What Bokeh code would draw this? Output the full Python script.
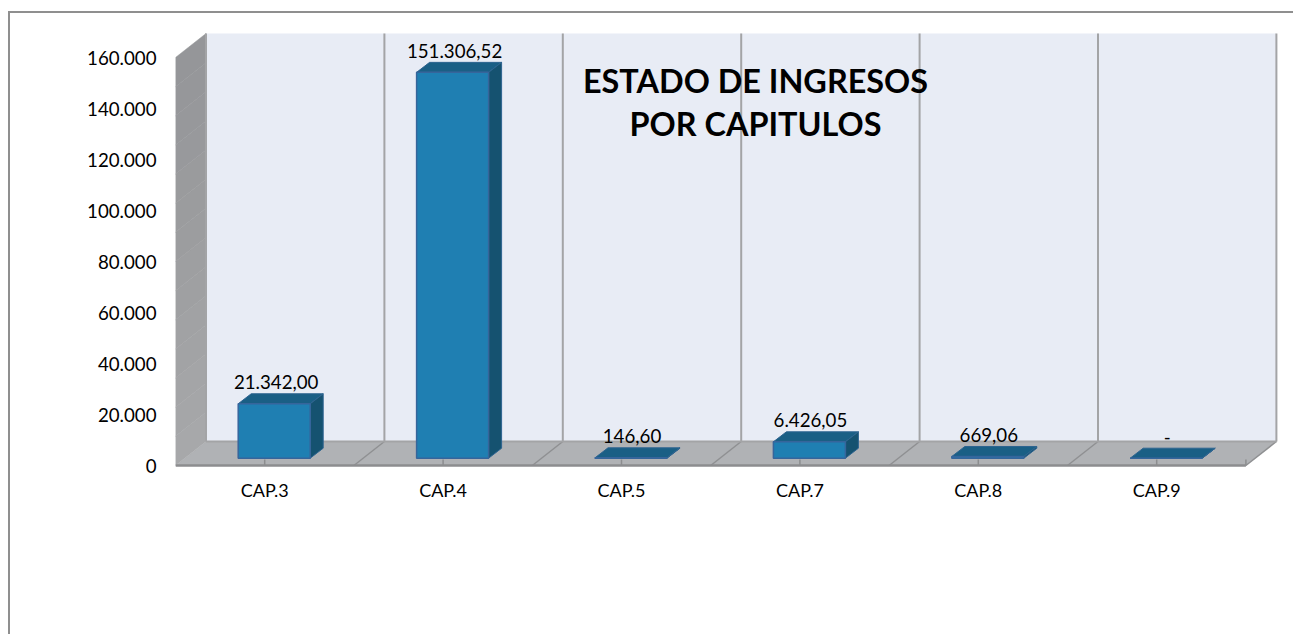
from bokeh.embed import file_html
from bokeh.models import FixedTicker, Range1d
from bokeh.plotting import figure
from bokeh.core.properties import value
from bokeh.resources import INLINE

categories = ["CAP.3", "CAP.4", "CAP.5", "CAP.7", "CAP.8", "CAP.9"]
values = [21342.00, 151306.52, 146.60, 6426.05, 669.06, 0.0]
value_labels = ["21.342,00", "151.306,52", "146,60", "6.426,05", "669,06", "-"]
y_ticks = [0, 20000, 40000, 60000, 80000, 100000, 120000, 140000, 160000]
y_tick_labels = ["0", "20.000", "40.000", "60.000", "80.000", "100.000", "120.000", "140.000", "160.000"]
label_shift_px = [2, 2, 1, 1, 1, 1]
title_lines = ["ESTADO DE INGRESOS", "POR CAPITULOS"]

FONT = "Lato"
W, H = 1293, 634
LEFT, TOP, BOTTOM = 175, 13, 467   # frame edges in page pixels
ZERO = 465
PX_PER_CAT = 178.4
PX_PER_VAL = 408 / 160000


def dx(px):
    return px / PX_PER_CAT


def dy(px):
    return px / PX_PER_VAL


n = len(categories)
y_top = 160000
depth_x, depth_y = dx(30.5), dy(24)

line = "linear-gradient(#8f8f8f,#8f8f8f)"
p = figure(
    width=W, height=H, output_backend="svg", toolbar_location=None,
    x_range=Range1d(0, dx(W - LEFT)),
    y_range=Range1d(dy(ZERO - BOTTOM), dy(ZERO - TOP)),
    min_border_left=LEFT, min_border_right=0, min_border_top=TOP,
    min_border_bottom=H - BOTTOM,
    background_fill_color=None, border_fill_color=None, outline_line_color=None,
    styles={"background": f"{line} 8px 11px/2px 100% no-repeat, {line} 8px 11px/100% 2px no-repeat, white"},
)
p.grid.visible = False

# Back wall, floor and left wall
p.patch([depth_x, n + depth_x, n + depth_x, depth_x], [depth_y, depth_y, y_top + depth_y, y_top + depth_y],
        fill_color="#e8ecf5", line_color=None)
p.patch([0, depth_x, n + depth_x, n], [0, depth_y, depth_y, 0], fill_color="#b0b2b5", line_color=None)
bands = 14
shades = ["#959699", "#96979a", "#97989b", "#98999c", "#9a9b9d", "#9b9c9e", "#9c9d9f",
          "#9e9fa1", "#9fa0a2", "#a1a2a4", "#a2a3a5", "#a4a5a7", "#a5a6a8", "#a7a8aa"]
for b in range(bands):
    lo = y_top * b / bands
    hi = y_top * (b + 1) / bands
    p.patch([0, depth_x, depth_x, 0], [lo, lo + depth_y, hi + depth_y, hi],
            fill_color=shades[bands - 1 - b], line_color=shades[bands - 1 - b], line_width=0.5)

# Wall grid and floor edges
wall_x = [[i + depth_x, i + depth_x] for i in range(n + 1)]
wall_y = [[depth_y, y_top + depth_y] for i in range(n + 1)]
p.multi_line(wall_x, wall_y, line_color="#a3a4a6", line_width=2)
floor_x = [[i, i + depth_x] for i in range(1, n + 1)]
floor_y = [[0, depth_y] for i in range(1, n + 1)]
p.multi_line(floor_x, floor_y, line_color="#8f9092", line_width=1.5)
p.line([depth_x, n + depth_x], [depth_y, depth_y], line_color="#a3a4a6", line_width=2)
p.line([0, n], [0, 0], line_color="#8c8d8f", line_width=2.5)
tick_x = [[i + 0.5, i + 0.5] for i in range(n)] + [[n, n]]
tick_y = [[0, dy(6)] for i in range(n + 1)]
p.multi_line(tick_x, tick_y, line_color="#8c8d8f", line_width=1.5)

# Bars
base = dy(7.3)
bar_w = dx(72)
bar_off = dx(-26.5)
bar_dx, bar_dy = dx(13), dy(10)
lefts = [i + 0.5 + bar_off for i in range(n)]
rights = [l + bar_w for l in lefts]
tops = [base + v for v in values]
p.patches([[l, r, r + bar_dx, l + bar_dx] for l, r in zip(lefts, rights)],
          [[t, t, t + bar_dy, t + bar_dy] for t in tops],
          fill_color="#1a5f85", line_color="#2e6490", line_width=1)
p.patches([[r, r + bar_dx, r + bar_dx, r] for r in rights],
          [[base, base + bar_dy, t + bar_dy, t] for t in tops],
          fill_color="#155270", line_color="#2e6490", line_width=1)
p.quad(left=lefts, right=rights, bottom=base, top=tops,
       fill_color="#1f7fb2", line_color="#36659b", line_width=1.5)

# Value labels
p.text(x=[l + bar_w / 2 + dx(s) for l, s in zip(lefts, label_shift_px)],
       y=[t + bar_dy + dy(4.5) for t in tops], text=value_labels,
       text_font=value(FONT), text_font_size="18.7px", text_color="#000000",
       text_align="center", text_baseline="bottom")

# Axes
p.yaxis.ticker = FixedTicker(ticks=y_ticks)
p.yaxis.major_label_overrides = dict(zip(y_ticks, y_tick_labels))
p.yaxis.axis_line_color = None
p.yaxis.major_tick_line_color = None
p.yaxis.minor_tick_line_color = None
p.yaxis.major_label_standoff = 13
p.yaxis.major_label_text_font = FONT
p.yaxis.major_label_text_font_size = "18.7px"
p.yaxis.major_label_text_color = "#000000"

x_ticks = [i + 0.5 for i in range(n)]
p.xaxis.ticker = FixedTicker(ticks=x_ticks)
p.xaxis.major_label_overrides = dict(zip(x_ticks, categories))
p.xaxis.axis_line_color = None
p.xaxis.major_tick_line_color = None
p.xaxis.minor_tick_line_color = None
p.xaxis.major_label_standoff = 5
p.xaxis.major_label_text_font = FONT
p.xaxis.major_label_text_font_size = "18px"
p.xaxis.major_label_text_color = "#000000"

# Title
p.text(x=[dx(755 - LEFT), dx(755 - LEFT)], y=[dy(ZERO - 80), dy(ZERO - 123)], text=title_lines,
       text_font=value(FONT), text_font_size="32.4px", text_font_style="bold", text_color="#000000",
       text_align="center", text_baseline="middle")

open("out.html", "w").write(file_html(p, INLINE))
